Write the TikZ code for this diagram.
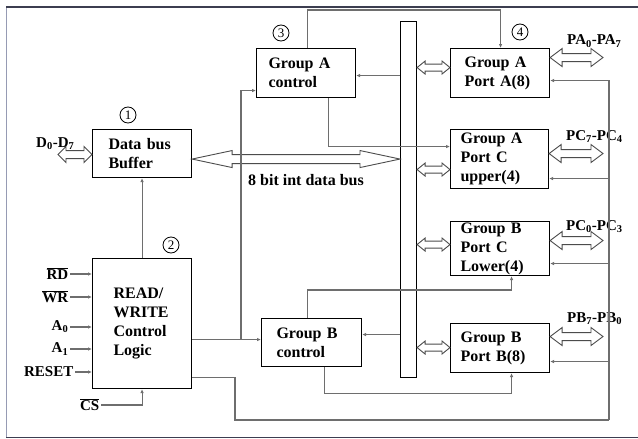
\documentclass[tikz,border=0pt]{standalone}
\usepackage{fontspec}
\setmainfont{Liberation Serif}
\usetikzlibrary{arrows.meta,calc}
\definecolor{framedark}{RGB}{60,62,80}
\definecolor{framelight}{RGB}{150,155,180}
\definecolor{connc}{RGB}{110,110,110}
\newcommand\harrow[5]{\draw[hollow] let \p1=(#1), \p2=(#2) in
  (\x1,\y1) -- (\x1+#5,\y1+#4) -- (\x1+#5,\y1+#3) -- (\x2-#5,\y1+#3) -- (\x2-#5,\y1+#4)
  -- (\x2,\y1) -- (\x2-#5,\y1-#4) -- (\x2-#5,\y1-#3) -- (\x1+#5,\y1-#3) -- (\x1+#5,\y1-#4) -- cycle;}
\begin{document}
\begin{tikzpicture}[x=1pt,y=-1pt,
  box/.style={draw=black,line width=1.1pt,anchor=north west,inner ysep=0pt,align=left,
    font=\bfseries\fontsize{16}{19}\selectfont},
  conn/.style={draw=connc,line width=1.1pt},
  arr/.style={conn,-{Latex[length=4pt,width=3.5pt]}},
  hollow/.style={draw=black!70,line width=0.9pt,fill=white},
  num/.style={circle,draw=black,line width=0.8pt,inner sep=0pt,minimum size=16pt,
    font=\fontsize{13}{13}\selectfont},
  lbl/.style={font=\bfseries\fontsize{15}{15}\selectfont,inner sep=1.5pt},
]
\useasboundingbox (0,0) rectangle (638,439);
\fill[white] (0,0) rectangle (638,439);
% frame
\draw[framelight,line width=1.2pt] (6.5,7) -- (6.5,437);
\draw[framedark,line width=1.3pt] (6,7) -- (640,7);
\draw[framedark,line width=1.3pt] (6,437.5) -- (640,437.5);

% boxes
\node[box,minimum width=99pt,minimum height=48pt,text width=67pt,inner xsep=16pt] (buf) at (92,129) {Data bus\\Buffer};
\node[box,minimum width=99pt,minimum height=130pt,text width=57pt,inner xsep=21pt] (rw) at (92,258) {READ/\\WRITE\\Control\\Logic};
\node[box,minimum width=99pt,minimum height=49pt,text width=75pt,inner xsep=12pt] (gac) at (256,48) {Group A\\control};
\node[box,minimum width=100pt,minimum height=48pt,text width=70pt,inner xsep=15pt] (gbc) at (261,318) {Group B\\control};
\node[box,minimum width=99pt,minimum height=49pt,text width=71pt,inner xsep=14pt] (pa) at (450,48) {Group A\\Port A(8)};
\node[box,minimum width=98pt,minimum height=59pt,text width=78pt,inner xsep=10pt] (pcu) at (450,129) {Group A\\Port C\\upper(4)};
\node[box,minimum width=99pt,minimum height=54pt,text width=79pt,inner xsep=10pt] (pcl) at (450,221) {Group B\\Port C\\Lower(4)};
\node[box,minimum width=99pt,minimum height=49pt,text width=79pt,inner xsep=10pt] (pb) at (450,323) {Group B\\Port B(8)};
\node[draw=black,line width=1.1pt,anchor=north west,minimum width=16pt,minimum height=356pt,inner sep=0pt] (bar) at (400,21) {};

% circled numbers
\node[num] (n1) at (128,115) {1};
\node[num] (n2) at (171,245) {2};
\node[num] (n3) at (281,33) {3};
\node[num] (n4) at (520,32) {4};

% hollow arrows
\coordinate (dx) at (58,0);
\coordinate (d1) at ([yshift=-1pt]buf.west);
\coordinate (d0) at (d1 -| dx);
\harrow{d0}{d1}{4pt}{8pt}{8pt}
\coordinate (ba1) at ([yshift=-5.5pt]buf.east);
\coordinate (ba2) at (ba1 -| bar.west);
\harrow{ba1}{ba2}{4.5pt}{8.5pt}{40pt}
\coordinate (pa1) at ([yshift=5.5pt]pa.west);
\coordinate (pa0) at (pa1 -| bar.east);
\harrow{pa0}{pa1}{3.5pt}{6.5pt}{8pt}
\coordinate (pcu1) at ([yshift=-10.5pt]pcu.west);
\coordinate (pcu0) at (pcu1 -| bar.east);
\harrow{pcu0}{pcu1}{3.5pt}{6.5pt}{8pt}
\coordinate (pcl1) at ([yshift=4pt]pcl.west);
\coordinate (pcl0) at (pcl1 -| bar.east);
\harrow{pcl0}{pcl1}{3.5pt}{6.5pt}{8pt}
\coordinate (pb1) at ([yshift=0.5pt]pb.west);
\coordinate (pb0) at (pb1 -| bar.east);
\harrow{pb0}{pb1}{3.5pt}{6.5pt}{8pt}
\coordinate (rx) at (603,0);
\coordinate (pae) at ([yshift=15.5pt]pa.east);
\coordinate (paf) at (pae -| rx);
\harrow{pae}{paf}{4pt}{9pt}{12pt}
\coordinate (pcue) at ([yshift=5.5pt]pcu.east);
\coordinate (pcuf) at (pcue -| rx);
\harrow{pcue}{pcuf}{4pt}{9pt}{12pt}
\coordinate (pcle) at ([yshift=8pt]pcl.east);
\coordinate (pclf) at (pcle -| rx);
\harrow{pcle}{pclf}{4pt}{9pt}{12pt}
\coordinate (pbe) at ([yshift=11.5pt]pb.east);
\coordinate (pbf) at (pbe -| rx);
\harrow{pbe}{pbf}{4pt}{9pt}{12pt}

% labels
\node[lbl,anchor=base west,inner sep=0pt] (dlab) at (36,147) {D\textsubscript{0}-D\textsubscript{7}};
\node[lbl,anchor=base,inner sep=0pt,font=\bfseries\fontsize{16}{16}\selectfont] (buslab) at (306,185) {8 bit int data bus};
\node[lbl,anchor=base west,inner sep=0pt] (palab) at (567,45) {PA\textsubscript{0}-PA\textsubscript{7}};
\node[lbl,anchor=base west,inner sep=0pt] (pculab) at (566,140) {PC\textsubscript{7}-PC\textsubscript{4}};
\node[lbl,anchor=base west,inner sep=0pt] (pcllab) at (566,230) {PC\textsubscript{0}-PC\textsubscript{3}};
\node[lbl,anchor=base west,inner sep=0pt] (pblab) at (567,322) {PB\textsubscript{7}-PB\textsubscript{0}};

\node[lbl,anchor=east] (rd) at (70,274) {$\overline{\mbox{RD}}$};
\node[lbl,anchor=east] (wr) at (70,297) {$\overline{\mbox{WR}}$};
\node[lbl,anchor=east] (a0) at (70,327) {A\textsubscript{0}};
\node[lbl,anchor=east] (a1) at (70,349) {A\textsubscript{1}};
\node[lbl,anchor=east] (reset) at (75,372) {RESET};
\node[lbl,anchor=east] (cs) at (101,405) {$\overline{\mbox{CS}}$};

% connectors
\draw[arr] (rw.north) -- (buf.south);
\draw[arr] (rd.east) -- (rd.east -| rw.west);
\draw[arr] (wr.east) -- (wr.east -| rw.west);
\draw[arr] (a0.east) -- (a0.east -| rw.west);
\draw[arr] (a1.east) -- (a1.east -| rw.west);
\draw[arr] (reset.east) -- (reset.east -| rw.west);
\draw[arr] (cs.east) -| (rw.south);

\coordinate (j0) at ([yshift=-16pt]rw.east);
\draw[arr] (j0) -- (j0 -| gbc.west);
\coordinate (j1) at (241,339);
\draw[arr] (j1) |- ([yshift=-17.5pt]gac.west);

\coordinate (c1) at (235,420);
\coordinate (c2) at (609,420);
\draw[conn] ([yshift=-54pt]rw.east) -| (c1) -- (c2);
\draw[arr] (c2) |- ([yshift=-7.5pt]pa.east);
\coordinate (e2) at ([yshift=-19.5pt]pcu.east);
\draw[arr] (e2 -| c2) -- (e2);
\coordinate (e3) at ([yshift=-15pt]pcl.east);
\draw[arr] (e3 -| c2) -- (e3);
\coordinate (e4) at ([yshift=-13.5pt]pb.east);
\draw[arr] (e4 -| c2) -- (e4);

\draw[arr] ([xshift=1.5pt]gac.north) -- ++(0,-38) -| ([xshift=0.5pt]pa.north);
\draw[arr] ([xshift=22.5pt]gac.south) |- ([yshift=12.5pt]pcu.west);
\coordinate (g1) at ([yshift=-2.5pt]gac.east);
\draw[arr] (g1 -| bar.west) -- (g1);
\coordinate (g2) at ([yshift=8pt]gbc.east);
\draw[arr] (g2 -| bar.west) -- (g2);
\draw[arr] ([xshift=-4pt]gbc.north) -- ++(0,-28) -| ([xshift=11.5pt]pcl.south);
\draw[arr] ([xshift=13pt]gbc.south) -- ++(0,26) -| ([xshift=11.5pt]pb.south);
\end{tikzpicture}
\end{document}
